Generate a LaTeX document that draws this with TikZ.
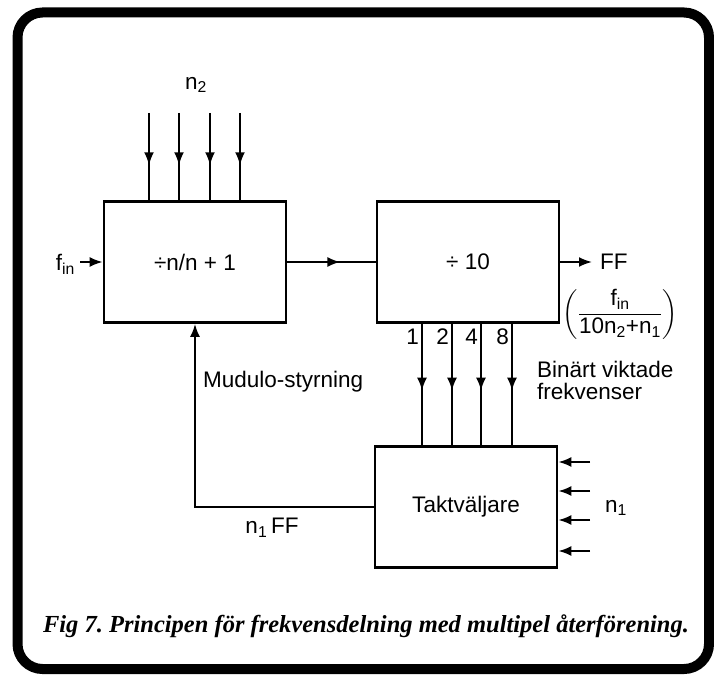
\documentclass[tikz,border=0pt]{standalone}
\usepackage{amsmath}
\usepackage{fontspec}
\setmainfont{Liberation Sans}
\newfontfamily\capfont{Liberation Serif}
\newcommand{\diafont}{\fontsize{22.5}{22}\selectfont}
\usetikzlibrary{arrows.meta,decorations.markings}

\begin{document}
\begin{tikzpicture}[x=1pt, y=-1pt,
  block/.style={draw, line width=2.8pt, minimum width=182pt, minimum height=121pt, inner sep=0pt, font=\diafont},
  wire/.style={line width=1.9pt},
  tip/.style={-{Latex[length=13pt,width=10pt]}},
  midarrow/.style={decoration={markings, mark=at position #1 with {\arrow{Latex[length=13pt,width=10pt]}}}, postaction={decorate}},
  lbl/.style={font=\diafont, inner sep=0pt}]

\useasboundingbox (0,0) rectangle (714,676);

% Frame
\draw[line width=10pt, rounded corners=25pt] (17.5,12.5) rectangle (709,669);

% Blocks
\node[block] (divn) at (195,262) {÷n/n + 1};
\node[block] (div10) at (468,262) {÷ 10};
\node[block] (takt) at (466,507) {Taktväljare};

% Inputs n2
\node[lbl] (n2lbl) at (196,85) {$\text{n}_{\text{2}}$};
\foreach \dx [count=\i] in {-46,-16,15,45} {
  \coordinate (n2in\i) at (195+\dx,113);
  \draw[wire, midarrow=0.6] (n2in\i) -- (n2in\i |- divn.north);
}

% Input f_in
\coordinate (finin) at (80,262);
\node[lbl, anchor=east] (fin) at (75,264) {$\text{f}_{\text{in}}$};
\draw[wire, tip] (finin) -- (divn.west);

% Between blocks
\draw[wire, midarrow=0.6] (divn.east) -- (div10.west);

% Output FF
\coordinate (ffout) at (592,262);
\draw[wire, tip] (div10.east) -- (ffout);
\node[lbl, anchor=west] (ff) at (600,262) {FF};
\node[lbl] (fract) at (620,314) {$\left(\dfrac{\text{f}_{\text{in}}}{\text{10n}_{\text{2}}\text{+n}_{\text{1}}}\right)$};

% Binary weighted outputs
\foreach \dx/\w [count=\i] in {-46/1,-16/2,13/4,44/8} {
  \coordinate (bit\i) at (468+\dx,330);
  \draw[wire, midarrow=0.55] (bit\i |- div10.south) -- (bit\i |- takt.north);
  \node[lbl, anchor=east] (bitlbl\i) at (465+\dx,337) {\w};
}
\node[lbl, anchor=north west, align=left] (binlbl) at (537,361) {Binärt viktade\\frekvenser};

% Inputs n1
\foreach \dy [count=\i] in {-45,-16,13,44} {
  \coordinate (n1in\i) at (590,507+\dy);
  \draw[wire, tip] (n1in\i) -- (n1in\i -| takt.east);
}
\node[lbl] (n1lbl) at (616,508) {$\text{n}_{\text{1}}$};

% Feedback
\draw[wire, tip] (takt.west) -| (divn.south);
\node[lbl, anchor=west] (modlbl) at (203,382) {Mudulo-styrning};
\node[lbl] (fblbl) at (272,528) {$\text{n}_{\text{1}}$\,FF};

% Caption
\node[inner sep=0pt] (caption) at (366,626) {\capfont\fontsize{24.5}{28}\selectfont\bfseries\itshape Fig 7.\ Principen för frekvensdelning med multipel återförening.};

\end{tikzpicture}
\end{document}
